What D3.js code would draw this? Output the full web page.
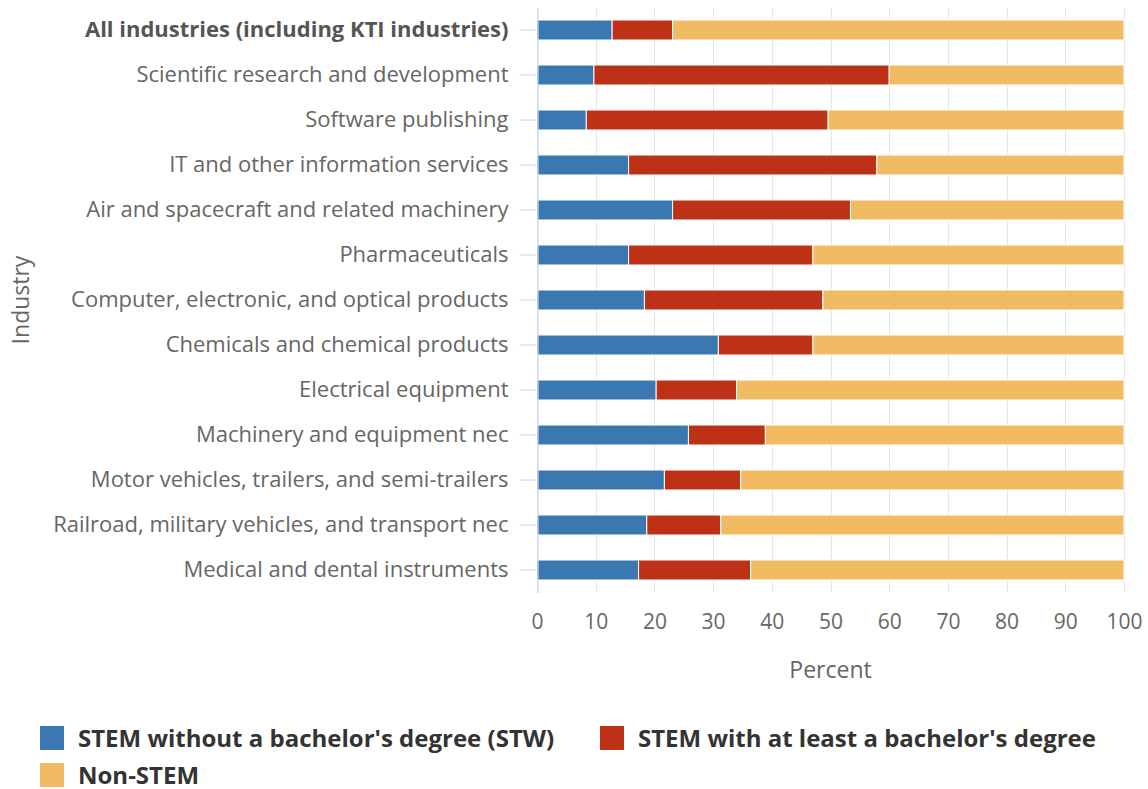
<!DOCTYPE html>
<html>
<head>
<meta charset="utf-8">
<script src="https://cdn.jsdelivr.net/npm/d3@7"></script>
<style>
  body { margin: 0; background: #fff; }
  text { font-family: "Open Sans", sans-serif; }
</style>
</head>
<body>
<svg id="chart"></svg>
<script>
const width = 1148;
const height = 789;

// industries (top to bottom)
const industries = [
    'All industries (including KTI industries)',
    'Scientific research and development',
    'Software publishing',
    'IT and other information services',
    'Air and spacecraft and related machinery',
    'Pharmaceuticals',
    'Computer, electronic, and optical products',
    'Chemicals and chemical products',
    'Electrical equipment',
    'Machinery and equipment nec',
    'Motor vehicles, trailers, and semi-trailers',
    'Railroad, military vehicles, and transport nec',
    'Medical and dental instruments'
];

// percent values
const stw      = [12.8, 9.7, 8.4, 15.6, 23.1, 15.6, 18.3, 30.9, 20.3, 25.8, 21.7, 18.7, 17.3];
const stemBach = [10.3, 50.3, 41.2, 42.3, 30.3, 31.4, 30.4, 16.1, 13.7, 13.1, 13.0, 12.6, 19.1];
const nonStem  = [76.9, 40.0, 50.4, 42.1, 46.6, 53.0, 51.3, 53.0, 66.0, 61.1, 65.3, 68.7, 63.6];

const seriesNames = [
    "STEM without a bachelor's degree (STW)",
    "STEM with at least a bachelor's degree",
    'Non-STEM'
];
const seriesColors = ['#3b78b2', '#bd3116', '#f0bb63'];
const xTicks = [0, 10, 20, 30, 40, 50, 60, 70, 80, 90, 100];

const svg = d3.select('#chart')
    .attr('width', width)
    .attr('height', height);

const plot = { left: 537, right: 1124, top: 7.5, bottom: 592.5 };

const x = d3.scaleLinear().domain([0, 100]).range([plot.left, plot.right]);
const y = d3.scaleBand().domain(industries).range([plot.top, plot.bottom]).paddingInner(0.556).paddingOuter(0.278);

// build stacked rows
const rows = industries.map((name, i) => ({ name, s0: stw[i], s1: stemBach[i], s2: nonStem[i] }));
const stack = d3.stack().keys(['s0', 's1', 's2'])(rows);

// grid lines
svg.append('g')
    .selectAll('line')
    .data(xTicks)
    .join('line')
    .attr('x1', d => Math.round(x(d)) + 0.5)
    .attr('x2', d => Math.round(x(d)) + 0.5)
    .attr('y1', plot.top)
    .attr('y2', plot.bottom)
    .attr('stroke', '#e6e6e6')
    .attr('stroke-width', 1);

// bars
svg.append('g')
    .selectAll('g')
    .data(stack)
    .join('g')
    .attr('fill', (d, i) => seriesColors[i])
    .selectAll('rect')
    .data(d => d)
    .join('rect')
    .attr('x', d => x(d[0]))
    .attr('y', d => y(d.data.name))
    .attr('width', d => x(d[1]) - x(d[0]))
    .attr('height', y.bandwidth())
    .attr('stroke', '#fff')
    .attr('stroke-width', 1);

// y axis
const yAxis = svg.append('g')
    .attr('transform', `translate(${plot.left + 0.5},0)`)
    .call(d3.axisLeft(y).tickSizeInner(18).tickSizeOuter(0).tickPadding(11));
yAxis.select('.domain').attr('stroke', '#ccd6eb').attr('stroke-width', 1.2);
yAxis.selectAll('.tick line').attr('stroke', '#ccd6eb');
yAxis.selectAll('.tick text')
    .style('font-size', '22px')
    .style('font-family', '"Open Sans", sans-serif')
    .style('font-weight', (d, i) => i === 0 ? 'bold' : 'normal')
    .attr('fill', (d, i) => i === 0 ? '#555' : '#666');

// x axis (labels only)
const xAxis = svg.append('g')
    .attr('transform', `translate(0,${plot.bottom})`)
    .call(d3.axisBottom(x).tickValues(xTicks).tickSize(0).tickPadding(22));
xAxis.select('.domain').remove();
xAxis.selectAll('.tick text')
    .attr('fill', '#666')
    .style('font-size', '21px')
    .style('font-family', '"Open Sans", sans-serif');

// axis titles
svg.append('text')
    .attr('x', (plot.left + plot.right) / 2)
    .attr('y', 678)
    .attr('text-anchor', 'middle')
    .attr('fill', '#666')
    .style('font-size', '23px')
    .text('Percent');

svg.append('text')
    .attr('transform', `translate(29,${(plot.top + plot.bottom) / 2}) rotate(-90)`)
    .attr('text-anchor', 'middle')
    .attr('fill', '#666')
    .style('font-size', '23px')
    .text('Industry');

// legend
const legendPos = [[40, 726], [600, 726], [40, 763]];
const legend = svg.append('g')
    .selectAll('g')
    .data(seriesNames)
    .join('g')
    .attr('transform', (d, i) => `translate(${legendPos[i][0]},${legendPos[i][1]})`);
legend.append('rect')
    .attr('width', 24)
    .attr('height', 24)
    .attr('fill', (d, i) => seriesColors[i]);
legend.append('text')
    .attr('x', 38)
    .attr('y', 21)
    .attr('fill', '#333')
    .style('font-size', '24px')
    .style('font-weight', 'bold')
    .text(d => d);
</script>
</body>
</html>
